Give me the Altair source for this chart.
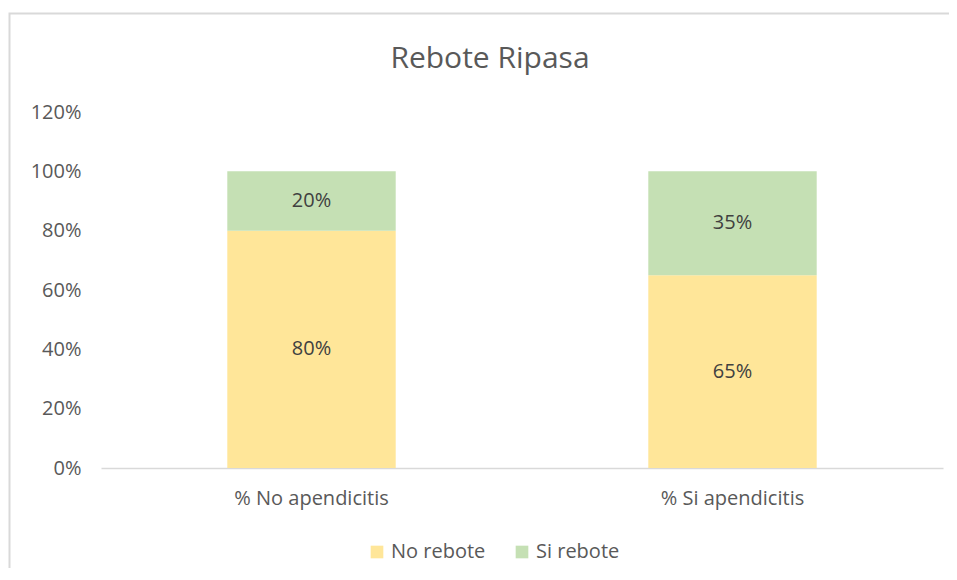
import altair as alt
import pandas as pd

categories = ["% No apendicitis", "% Si apendicitis"]
series = ["No rebote", "Si rebote"]
no_rebote = [0.80, 0.65]
si_rebote = [0.20, 0.35]
y_ticks = [0, 0.2, 0.4, 0.6, 0.8, 1.0, 1.2]
colors = ["#FFE699", "#C5E0B4"]

rows = []
for i, c in enumerate(categories):
    rows.append({"category": c, "serie": series[0], "value": no_rebote[i], "ord": 0})
    rows.append({"category": c, "serie": series[1], "value": si_rebote[i], "ord": 1})
df = pd.DataFrame(rows)

FONT = "Open Sans"
GRAY = "#595959"

x_enc = alt.X(
    "category:N",
    sort=categories,
    scale=alt.Scale(paddingInner=0.6, paddingOuter=0.3),
    axis=alt.Axis(
        title=None, labelAngle=0, ticks=False, domainColor="#D9D9D9", domainWidth=1.5,
        labelFontSize=20, labelColor=GRAY, labelFont=FONT, labelPadding=20,
    ),
)

base = alt.Chart(df)

bars = base.mark_bar().encode(
    x=x_enc,
    y=alt.Y(
        "value:Q",
        stack="zero",
        scale=alt.Scale(domain=[0, 1.2], nice=False),
        axis=alt.Axis(
            title=None, values=y_ticks, format=".0%", grid=False, domain=False, ticks=False,
            labelFontSize=20, labelColor=GRAY, labelFont=FONT, labelPadding=20,
        ),
    ),
    color=alt.Color(
        "serie:N",
        scale=alt.Scale(domain=series, range=colors),
        legend=alt.Legend(
            title=None, orient="none", legendX=266, legendY=430, direction="horizontal",
            symbolType="square", symbolSize=160, symbolStrokeWidth=0,
            labelFontSize=20, labelColor=GRAY, labelFont=FONT,
            columnPadding=26, labelOffset=4, padding=0,
        ),
    ),
    order=alt.Order("ord:Q"),
)

labels = base.transform_stack(
    stack="value", groupby=["category"], as_=["v0", "v1"], sort=[alt.SortField("ord")]
).transform_calculate(
    mid="(datum.v0 + datum.v1) / 2"
).mark_text(fontSize=20, color="#404040", font=FONT, baseline="middle").encode(
    x=x_enc,
    y=alt.Y("mid:Q"),
    text=alt.Text("value:Q", format=".0%"),
)

border = alt.Chart(pd.DataFrame({"d": [0]})).mark_rect(
    fill=None, stroke="#D9D9D9", strokeWidth=2, clip=False
).encode(
    x=alt.value(-91.5), x2=alt.value(1000), y=alt.value(-98.5), y2=alt.value(1000)
)

chart = alt.layer(border, bars, labels).properties(
    width=842,
    height=356,
    autosize=alt.AutoSizeParams(type="none"),
    padding={"left": 93, "top": 104, "right": 6, "bottom": 100},
    title=alt.TitleParams(
        "Rebote Ripasa", fontSize=30, font=FONT, color=GRAY, fontWeight="normal",
        anchor="middle", dx=-32, offset=-61,
    ),
).configure_view(stroke=None)

chart.save("out.html", embed_options={"renderer": "svg", "actions": False})
